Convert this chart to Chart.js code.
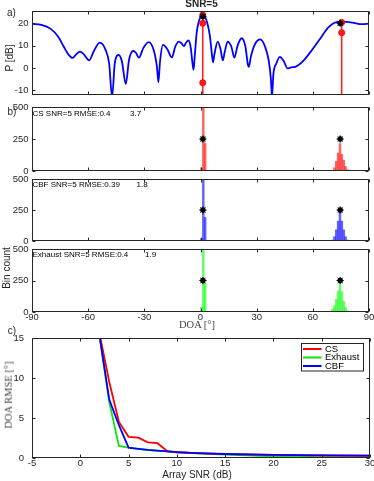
<!DOCTYPE html>
<html>
<head>
<meta charset="utf-8">
<script src="https://cdn.jsdelivr.net/npm/chart.js@4.4.1/dist/chart.umd.min.js"></script>
<style>
  body { margin: 0; background: #fff; }
  #page { position: relative; width: 374px; height: 481px; overflow: hidden; font-family: "Liberation Sans", Arial, sans-serif; color: #262626; }
  canvas { position: absolute; left: 0; }
  .lbl { position: absolute; white-space: nowrap; transform: translate(-50%, -50%); font-size: 10px; line-height: 1; }
  .rot { transform: translate(-50%, -50%) rotate(-90deg); }
  .note { position: absolute; white-space: nowrap; font-size: 8px; line-height: 1; transform: translateY(-50%); color: #000; }
  .serif { font-family: "Liberation Serif", "Times New Roman", serif; font-size: 10.5px; color: #444; }
</style>
</head>
<body>
<div id="page">
  <canvas id="spec" width="374" height="102" style="top:0"></canvas>
  <canvas id="histCS" width="374" height="80" style="top:97px"></canvas>
  <canvas id="histCBF" width="374" height="76" style="top:170px"></canvas>
  <canvas id="histExh" width="374" height="88" style="top:240px"></canvas>
  <canvas id="rmse" width="374" height="159" style="top:322px"></canvas>

  <div class="lbl" style="left:201.5px;top:4px;font-weight:bold">SNR=5</div>
  <div class="lbl" style="left:11.5px;top:13px">a)</div>
  <div class="lbl rot" style="left:9.5px;top:58px">P [dB]</div>
  <div class="lbl" style="left:12px;top:112px">b)</div>
  <div class="note" style="left:32.5px;top:113.5px">CS SNR=5 RMSE:0.4</div>
  <div class="note" style="left:130px;top:113.5px">3.7</div>
  <div class="note" style="left:32.5px;top:184.5px">CBF SNR=5 RMSE:0.39</div>
  <div class="note" style="left:136.5px;top:184.5px">1.8</div>
  <div class="note" style="left:32.5px;top:255px">Exhaust SNR=5 RMSE:0.4</div>
  <div class="note" style="left:145px;top:255px">1.9</div>
  <div class="lbl rot" style="left:7px;top:268px">Bin count</div>
  <div class="lbl serif" style="left:197px;top:325px">DOA [°]</div>
  <div class="lbl" style="left:12px;top:331px">c)</div>
  <div class="lbl rot serif" style="left:8.5px;top:395px">DOA RMSE [°]</div>
  <div class="lbl" style="left:197px;top:475px">Array SNR (dB)</div>
</div>
<script>
// a) beamformer power spectrum
const doaGrid = [-90, -85, -80, -76, -73, -70.5, -68.3, -66.5, -64.4, -62.5, -59.5, -57, -53.8, -50.6, -48.8, -47.2, -45.8, -43.7, -42, -39.9,
  -38.2, -36, -34.5, -32.9, -30.5, -27.7, -25, -23.2, -22.5, -21.6, -20.1, -17.8, -15.3, -13.5, -11.7, -10.3, -8.9, -7.6, -6.4, -5.2,
  -4.2, -3.7, -3.1, -2, -1, 0.5, 2, 3.5, 5, 6.1, 6.7, 7.4, 9.2, 10.8, 11.9, 12.9, 14.5, 16.5, 18.1, 19.8,
  22, 24, 25.3, 25.8, 27, 29.5, 31.9, 34.5, 36.5, 37.6, 38.2, 38.9, 40.5, 42.4, 44.5, 46.5, 48.5, 50.6, 54.5, 58.9,
  63.4, 68.7, 74, 78, 81.1, 86.4, 90];
const powerDb = [19.7, 19.3, 17.5, 14, 9.5, 6, 4.5, 6, 7.3, 6.3, 3.4, 7.5, 11.3, 7.9, 2, -13, 2, 5.8, 3, -7.2,
  3.5, 7.6, 6.8, 4.6, 9, 11.6, 8, 0, -6.4, 3, 10.3, 8.5, 4.7, 9.5, 11.8, 11.2, 9.8, 11.5, 12.3, 9,
  1.5, -0.8, 5, 16, 20.5, 23.2, 23.2, 20.5, 14.5, 6, 2.5, 6, 11.8, 8, 3.4, 7, 11.8, 9.5, 4.6, 10,
  13.3, 9.5, 1.5, 0.5, 5.5, 11.3, 12.8, 9.5, 3, -5, -13, -3, 2, 5, 3, -0.2, 0.3, 0.5, 2.8, 7.3,
  12.5, 18.5, 20.6, 20.6, 20.3, 19.6, 19.9];
const csDoa = [1.2, 1.2, 1.2, 75.4, 75.4];
const csPower = [23.7, 20, -6.6, 20.4, 15.8];
const stemBase = -20;
const trueDoa = [1.3, 74.6];
const truePower = [23, 20];

const doaTicks = [-90, -60, -30, 0, 30, 60, 90];
const dbTicks = [-10, 0, 10, 20];
const countTicks = [0, 250, 500];

// b) histograms of the estimated DOA (1 deg bins)
const binCenters = [0.5, 1.5, 2.5, 70.5, 71.5, 72.5, 73.5, 74.5, 75.5, 76.5, 77.5, 78.5, 79.5];
const csCounts = [25, 620, 215, 5, 25, 75, 140, 215, 130, 85, 35, 10, 3];
const cbfCounts = [20, 620, 190, 8, 35, 90, 160, 232, 160, 90, 35, 8, 2];
const exhCounts = [40, 620, 226, 25, 50, 100, 165, 226, 160, 85, 35, 10, 3];
const markerCount = [250, 250];

// c) RMSE against array SNR
const snr = [2, 3, 4, 5, 6, 7, 8, 9, 10, 12, 15, 20, 25, 30];
const rmseCS = [15.5, 9.5, 4.5, 2.65, 2.55, 1.95, 1.85, 0.85, 0.72, 0.6, 0.48, 0.38, 0.32, 0.28];
const rmseExh = [15.2, 7.0, 1.5, 1.3, 1.15, 1.0, 0.9, 0.82, 0.72, 0.58, 0.42, 0.22, 0.12, 0.06];
const rmseCBF = [15.2, 7.3, 4.1, 1.3, 1.15, 1.02, 0.92, 0.82, 0.74, 0.62, 0.5, 0.38, 0.32, 0.3];
const snrTicks = [-5, 0, 5, 10, 15, 20, 25, 30];
const rmseTicks = [0, 5, 10, 15];

const ink = "#262626";
const sans = "'Liberation Sans', Arial, sans-serif";
const tickFont = { family: sans, size: 9.5 };

const toPoints = (xs, ys) => xs.map((x, i) => ({ x, y: ys[i] }));

// matlab style box with inward ticks
const boxPlugin = {
  id: "box",
  afterDatasetsDraw(chart) {
    const { ctx, chartArea: a, scales } = chart;
    const l = Math.round(a.left) + 0.5, r = Math.round(a.right) - 0.5;
    const t = Math.round(a.top) + 0.5, b = Math.round(a.bottom) - 0.5;
    ctx.save();
    ctx.strokeStyle = ink;
    ctx.lineWidth = 1;
    ctx.strokeRect(l, t, r - l, b - t);
    ctx.beginPath();
    scales.x.ticks.forEach((tk) => {
      const px = Math.round(scales.x.getPixelForValue(tk.value)) + 0.5;
      ctx.moveTo(px, b); ctx.lineTo(px, b - 3);
      ctx.moveTo(px, t); ctx.lineTo(px, t + 3);
    });
    scales.y.ticks.forEach((tk) => {
      const py = Math.round(scales.y.getPixelForValue(tk.value)) + 0.5;
      ctx.moveTo(l, py); ctx.lineTo(l + 3, py);
      ctx.moveTo(r, py); ctx.lineTo(r - 3, py);
    });
    ctx.stroke();
    ctx.restore();
  },
};

const legendOrder = [0, 1, 2];
const legendPlugin = {
  id: "boxLegend",
  afterDraw(chart) {
    const { ctx, chartArea: a } = chart;
    const x0 = a.right - 68.5, y0 = a.top + 5.5, w = 62, h = 27.5;
    ctx.save();
    ctx.fillStyle = "#fff";
    ctx.fillRect(x0, y0, w, h);
    ctx.strokeStyle = ink;
    ctx.lineWidth = 1;
    ctx.strokeRect(x0, y0, w, h);
    ctx.font = "9.5px " + sans;
    ctx.textBaseline = "middle";
    legendOrder.forEach((k, i) => {
      const ds = chart.data.datasets[k];
      const y = y0 + 5.5 + i * 8.5;
      ctx.strokeStyle = ds.borderColor;
      ctx.lineWidth = 2;
      ctx.beginPath();
      ctx.moveTo(x0 + 1.5, y);
      ctx.lineTo(x0 + 20, y);
      ctx.stroke();
      ctx.fillStyle = "#000";
      ctx.fillText(ds.label, x0 + 23.5, y);
    });
    ctx.restore();
  },
};

const xAxis = (ticks, min, max, height, showLabels) => ({
  type: "linear", min, max, offset: false,
  grid: { display: false, drawTicks: false, offset: false },
  border: { display: false },
  ticks: { display: showLabels, color: ink, font: tickFont, padding: 0, autoSkip: false, maxRotation: 0 },
  afterBuildTicks: (s) => { s.ticks = ticks.map((v) => ({ value: v })); },
  afterFit: (s) => { s.height = height; s.paddingLeft = 0; s.paddingRight = 0; },
});

const yAxis = (ticks, min, max, pad) => ({
  type: "linear", min, max,
  grid: { display: false, drawTicks: false },
  border: { display: false },
  ticks: { color: ink, font: tickFont, padding: pad, autoSkip: false },
  afterBuildTicks: (s) => { s.ticks = ticks.map((v) => ({ value: v })); },
  afterFit: (s) => { s.width = 32; s.paddingTop = 0; s.paddingBottom = 0; },
});

const makeChart = (id, type, datasets, x, y, padding, extra = []) =>
  new Chart(document.getElementById(id), {
    type,
    data: { datasets },
    options: {
      responsive: false,
      animation: false,
      layout: { padding },
      plugins: { legend: { display: false }, tooltip: { enabled: false } },
      scales: { x, y },
    },
    plugins: [boxPlugin, ...extra],
  });

const trueMarkers = (ys) => [
  { type: "scatter", data: toPoints(trueDoa, ys), pointStyle: "star", pointRadius: 3.6, borderColor: "#000", borderWidth: 1 },
  { type: "scatter", data: toPoints(trueDoa, ys), pointStyle: "circle", pointRadius: 2.7, backgroundColor: "#000", borderColor: "#000", borderWidth: 0 },
];

// a)
const stemPoints = [];
csDoa.forEach((d, i) => {
  stemPoints.push({ x: d, y: stemBase }, { x: d, y: csPower[i] }, { x: d, y: null });
});

makeChart("spec", "line", [
  ...trueMarkers(truePower),
  { data: toPoints(csDoa, csPower), showLine: false, pointStyle: "circle", pointRadius: 3, backgroundColor: "#ff1a1a", borderColor: "#ff0000", borderWidth: 1 },
  { data: stemPoints, borderColor: "#ff2020", borderWidth: 1.6, pointRadius: 0, tension: 0, clip: 0 },
  { data: toPoints(doaGrid, powerDb), borderColor: "#0000ff", borderWidth: 1.8, pointRadius: 0, cubicInterpolationMode: "monotone", clip: 0 },
], xAxis(doaTicks, -90, 90, 0, false), yAxis(dbTicks, -12.1, 25.5, 3.5), { top: 11, bottom: 7, left: 0, right: 4 });

// b)
const histogram = (id, counts, color, xHeight, showLabels, padding) =>
  makeChart(id, "bar", [
    ...trueMarkers(markerCount),
    { type: "bar", data: toPoints(binCenters, counts), backgroundColor: color, borderWidth: 0, barPercentage: 1, categoryPercentage: 1, clip: 0 },
  ], xAxis(doaTicks, -90, 90, xHeight, showLabels), yAxis(countTicks, 0, 500, 3.5), padding);

histogram("histCS", csCounts, "rgba(255,0,0,0.6)", 0, false, { top: 10, bottom: 6, left: 0, right: 4 });
histogram("histCBF", cbfCounts, "rgba(0,0,255,0.6)", 0, false, { top: 9, bottom: 5, left: 0, right: 4 });
histogram("histExh", exhCounts, "rgba(0,255,0,0.6)", 12, true, { top: 9, bottom: 4, left: 0, right: 4 });

// c)
makeChart("rmse", "line", [
  { label: "CS", data: toPoints(snr, rmseCS), borderColor: "#ff0000", borderWidth: 1.8, pointRadius: 0, order: 1, clip: 0 },
  { label: "Exhaust", data: toPoints(snr, rmseExh), borderColor: "#12e012", borderWidth: 1.8, pointRadius: 0, order: 2, clip: 0 },
  { label: "CBF", data: toPoints(snr, rmseCBF), borderColor: "#0000ff", borderWidth: 1.8, pointRadius: 0, order: 0, clip: 0 },
], xAxis(snrTicks, -5, 30, 23, true), yAxis(rmseTicks, 0, 15, 8), { top: 16, bottom: 0, left: 0, right: 4 }, [legendPlugin]);
</script>
</body>
</html>
